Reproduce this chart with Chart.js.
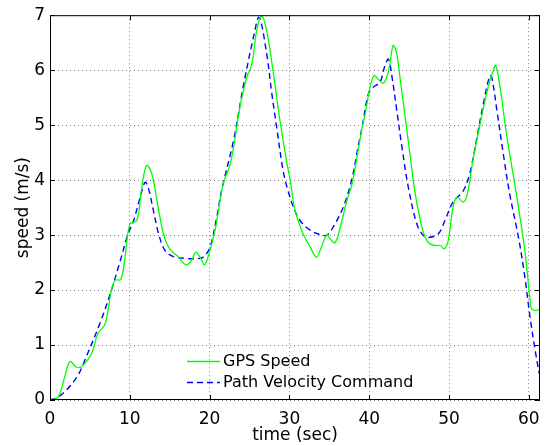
<!DOCTYPE html>
<html>
<head>
<meta charset="utf-8">
<script src="https://cdn.jsdelivr.net/npm/chart.js@4.4.0/dist/chart.umd.min.js"></script>
<style>
  html, body { margin: 0; padding: 0; background: #fff; }
</style>
</head>
<body>
<canvas id="myChart" width="550" height="446"></canvas>
<script>
// GPS speed (green, solid)
const gpsTime = [0, 1.0, 1.8, 2.5, 3.3, 4.0, 5.2, 6.0, 6.9, 7.7, 8.2, 8.85, 9.3, 10.0, 10.9, 11.5, 12.1, 12.75, 13.4, 14.2,
  15.0, 16.1, 17.0, 17.6, 18.3, 18.9, 19.35, 19.8, 20.7, 21.7, 22.6, 23.2, 23.8, 24.65, 25.3, 25.9, 26.5, 27.15, 28.0, 28.8,
  29.7, 30.1, 30.7, 31.7, 32.6, 33.4, 34.0, 34.7, 35.1, 35.7, 36.3, 37.2, 37.8, 38.4, 39.1, 39.5, 40.1, 40.6, 41.1, 41.7,
  42.2, 42.6, 43.0, 43.45, 43.9, 44.5, 45.1, 45.7, 46.4, 47.0, 47.6, 48.5, 48.9, 49.4, 49.9, 50.5, 51.0, 51.8, 52.3, 53.0,
  53.9, 54.9, 55.55, 55.85, 56.4, 57.2, 58.5, 59.5, 60.1, 60.35, 61.0, 61.4];
const gpsSpeed = [0, 0.05, 0.4, 0.70, 0.60, 0.61, 0.84, 1.21, 1.38, 2.0, 2.18, 2.19, 2.48, 3.2, 3.27, 3.87, 4.27, 4.12, 3.63, 3.03,
  2.75, 2.6, 2.46, 2.51, 2.69, 2.57, 2.46, 2.6, 3.1, 3.93, 4.3, 4.78, 5.33, 5.87, 6.12, 6.72, 6.99, 6.72, 5.93, 5.1,
  4.3, 4.0, 3.45, 3.03, 2.78, 2.6, 2.78, 3.01, 2.93, 2.86, 3.1, 3.63, 3.9, 4.36, 4.95, 5.21, 5.69, 5.9, 5.84, 5.76,
  5.87, 6.12, 6.45, 6.3, 5.81, 5.15, 4.48, 3.81, 3.27, 2.96, 2.84, 2.81, 2.81, 2.75, 2.9, 3.51, 3.69, 3.6, 3.75, 4.36,
  5.03, 5.69, 6.0, 6.09, 5.69, 4.84, 3.69, 2.72, 1.9, 1.66, 1.63, 1.66];

// path velocity command (blue, dashed)
const cmdTime = [0, 1.0, 2.25, 3.5, 4.1, 6.4, 7.7, 8.7, 9.8, 10.45, 11.3, 11.9, 12.3, 12.95, 13.6, 14.4, 15.45, 16.7, 18.2, 19.2,
  20.05, 20.9, 21.5, 23.0, 24.2, 25.5, 26.2, 27.15, 27.8, 28.4, 29.2, 29.7, 30.5, 31.3, 32.6, 33.8, 34.7, 35.5, 36.75, 37.8,
  38.6, 39.1, 39.9, 40.5, 41.35, 41.9, 42.4, 42.8, 43.45, 44.1, 44.9, 45.95, 46.8, 47.6, 48.7, 49.5, 50.5, 51.8, 52.6, 53.5,
  54.3, 55.1, 55.35, 56.0, 56.8, 57.6, 58.7, 59.5, 60.15, 60.8, 61.3];
const cmdSpeed = [0, 0.05, 0.21, 0.45, 0.63, 1.45, 2.0, 2.48, 3.03, 3.25, 3.69, 3.96, 3.87, 3.45, 3.03, 2.72, 2.61, 2.58, 2.57, 2.6,
  2.78, 3.33, 3.81, 4.72, 5.69, 6.6, 6.96, 6.3, 5.57, 4.96, 4.18, 3.87, 3.51, 3.27, 3.09, 3.01, 3.0, 3.15, 3.51, 4.0,
  4.6, 4.96, 5.57, 5.69, 5.78, 6.05, 6.2, 5.93, 5.27, 4.6, 3.87, 3.21, 2.99, 2.96, 3.03, 3.27, 3.6, 3.81, 4.12, 4.78,
  5.39, 5.9, 5.88, 5.27, 4.48, 3.75, 2.96, 2.24, 1.51, 0.9, 0.48];

const xTicks = [0, 10, 20, 30, 40, 50, 60];
const yTicks = [0, 1, 2, 3, 4, 5, 6, 7];
const seriesNames = ['GPS Speed', 'Path Velocity Command'];

const FONT = '"DejaVu Sans", Verdana, sans-serif';

const pts = (xs, ys) => xs.map((x, i) => ({ x: x, y: ys[i] }));

// box, inward tick marks and the in-plot legend
const boxPlugin = {
  id: 'box',
  afterDraw(chart) {
    const { ctx, chartArea: a, scales } = chart;
    ctx.save();
    ctx.strokeStyle = '#000';
    ctx.lineWidth = 1;
    ctx.setLineDash([]);
    ctx.strokeRect(a.left + 0.5, a.top + 0.5, a.right - a.left - 1, a.bottom - a.top - 1);
    const tl = 5;
    ctx.beginPath();
    xTicks.forEach(v => {
      const px = Math.round(scales.x.getPixelForValue(v)) + 0.5;
      ctx.moveTo(px, a.bottom); ctx.lineTo(px, a.bottom - tl);
      ctx.moveTo(px, a.top); ctx.lineTo(px, a.top + tl);
    });
    yTicks.forEach(v => {
      const py = Math.round(scales.y.getPixelForValue(v)) + 0.5;
      ctx.moveTo(a.left, py); ctx.lineTo(a.left + tl, py);
      ctx.moveTo(a.right, py); ctx.lineTo(a.right - tl, py);
    });
    ctx.stroke();

    // legend
    const lx = 187, ly = 361.5, gap = 21;
    ctx.font = '16px ' + FONT;
    ctx.textBaseline = 'middle';
    ctx.fillStyle = '#000';
    chart.data.datasets.forEach((ds, i) => {
      const y = ly + i * gap;
      ctx.strokeStyle = ds.borderColor;
      ctx.lineWidth = ds.borderWidth;
      ctx.setLineDash(ds.borderDash || []);
      ctx.beginPath();
      ctx.moveTo(lx, y); ctx.lineTo(lx + 33, y);
      ctx.stroke();
      ctx.fillText(ds.label, lx + 36, y);
    });
    ctx.restore();
  }
};

new Chart(document.getElementById('myChart').getContext('2d'), {
  type: 'line',
  data: {
    datasets: [{
      label: seriesNames[0],
      data: pts(gpsTime, gpsSpeed),
      borderColor: '#00ff00',
      borderWidth: 1.3,
      pointRadius: 0,
      tension: 0.35,
      fill: false
    }, {
      label: seriesNames[1],
      data: pts(cmdTime, cmdSpeed),
      borderColor: '#0000ff',
      borderWidth: 1.4,
      borderDash: [6, 4],
      pointRadius: 0,
      tension: 0.35,
      fill: false
    }]
  },
  options: {
    responsive: false,
    animation: false,
    layout: { padding: { top: 15, right: 10, left: 0, bottom: 0 } },
    plugins: { legend: { display: false }, tooltip: { enabled: false } },
    scales: {
      x: {
        type: 'linear',
        min: 0,
        max: 61.4,
        afterFit: s => { s.height = 46; },
        border: { display: false, dash: [1, 3] },
        grid: { color: 'rgba(0,0,0,0.5)', drawTicks: false },
        ticks: {
          stepSize: 10,
          includeBounds: false,
          padding: 9,
          color: '#000',
          font: { family: FONT, size: 17 }
        },
        title: {
          display: true,
          text: 'time (sec)',
          color: '#000',
          font: { family: FONT, size: 17 },
          padding: { top: 0, bottom: 0 }
        }
      },
      y: {
        min: 0,
        max: 7,
        afterFit: s => { s.width = 50; },
        border: { display: false, dash: [1, 3] },
        grid: { color: 'rgba(0,0,0,0.5)', drawTicks: false },
        ticks: {
          stepSize: 1,
          padding: 5,
          color: '#000',
          font: { family: FONT, size: 17 }
        },
        title: {
          display: true,
          text: 'speed (m/s)',
          color: '#000',
          font: { family: FONT, size: 17 },
          padding: { top: 13, bottom: 0 }
        }
      }
    }
  },
  plugins: [boxPlugin]
});
</script>
</body>
</html>
